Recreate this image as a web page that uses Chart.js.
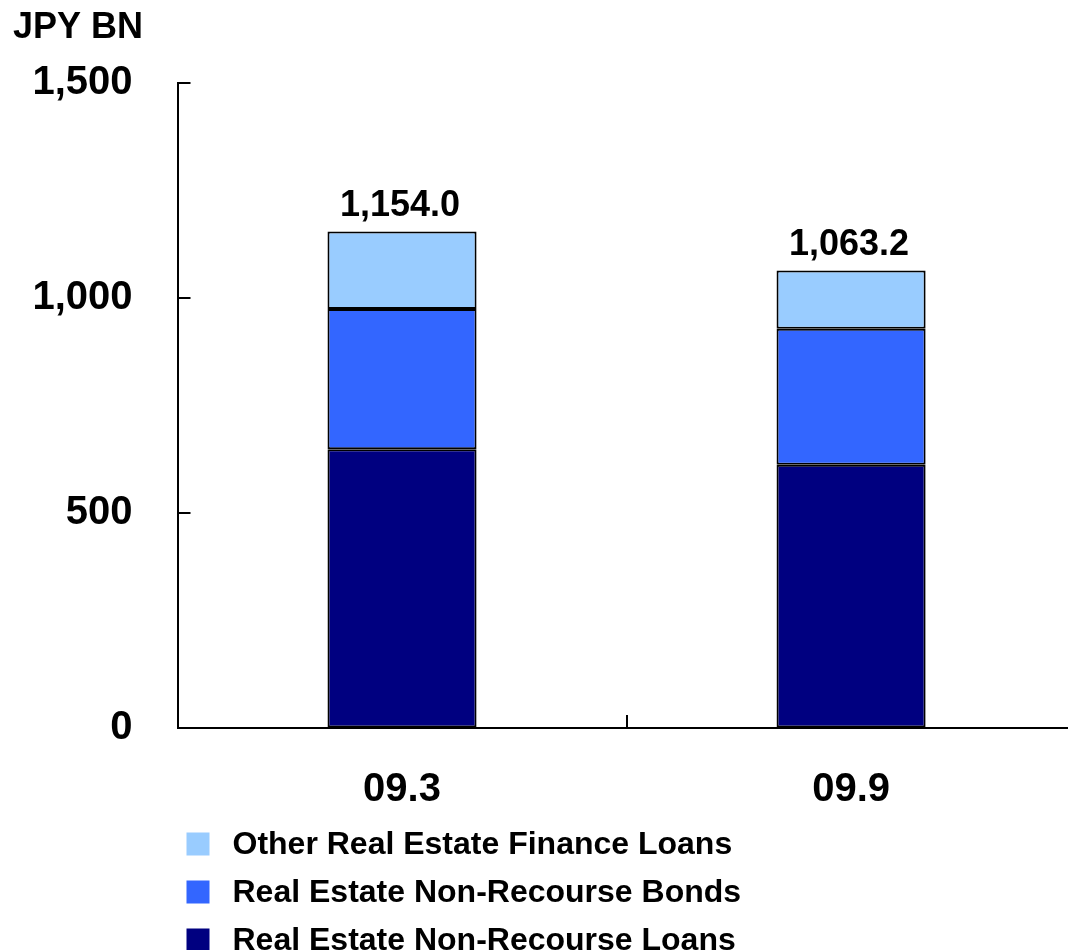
<!DOCTYPE html>
<html>
<head>
<meta charset="utf-8">
<title>Real Estate Finance</title>
<script src="https://cdn.jsdelivr.net/npm/chart.js@4/dist/chart.umd.min.js"></script>
<style>
    html, body { margin: 0; padding: 0; overflow: hidden; background: #ffffff; }
    #loansChart { display: block; }
</style>
</head>
<body>
<canvas id="loansChart" width="1080" height="950"></canvas>
<script>
// balances in JPY BN
const periods = ['09.3', '09.9'];
const nonRecourseLoans = [648.0, 612.0];
const nonRecourseBonds = [326.0, 316.0];
const otherFinanceLoans = [180.0, 135.2];
const yTicks = [0, 500, 1000, 1500];

const seriesNames = [
    'Real Estate Non-Recourse Loans',
    'Real Estate Non-Recourse Bonds',
    'Other Real Estate Finance Loans'
];
const seriesColors = ['#000080', '#3366ff', '#99ccff'];

const FONT = "'Liberation Sans', Arial, sans-serif";

document.addEventListener("DOMContentLoaded", function() {

    function formatTotal(v) {
        return v.toLocaleString('en-US', { minimumFractionDigits: 1, maximumFractionDigits: 1 });
    }

    // tick marks point into the plot, not out towards the labels
    const innerTicks = {
        id: 'innerTicks',
        afterDraw(chart) {
            const { ctx, chartArea, scales } = chart;
            const x = scales.x, y = scales.y;
            ctx.save();
            ctx.strokeStyle = '#000';
            ctx.lineWidth = 2;
            ctx.beginPath();
            y.ticks.forEach(t => {
                const py = Math.round(y.getPixelForValue(t.value));
                ctx.moveTo(chartArea.left, py);
                ctx.lineTo(chartArea.left + 13, py);
            });
            for (let i = 1; i < periods.length; i++) {
                const px = Math.round((x.getPixelForValue(i - 1) + x.getPixelForValue(i)) / 2);
                ctx.moveTo(px, chartArea.bottom);
                ctx.lineTo(px, chartArea.bottom - 13);
            }
            ctx.stroke();
            ctx.restore();
        }
    };

    // total of each stack written above the top segment
    const stackTotals = {
        id: 'stackTotals',
        afterDatasetsDraw(chart) {
            const { ctx } = chart;
            const top = chart.getDatasetMeta(chart.data.datasets.length - 1);
            ctx.save();
            ctx.fillStyle = '#000';
            ctx.font = `bold 36px ${FONT}`;
            ctx.textAlign = 'center';
            ctx.textBaseline = 'alphabetic';
            top.data.forEach((bar, i) => {
                const total = chart.data.datasets.reduce((s, ds) => s + ds.data[i], 0);
                ctx.fillText(formatTotal(total), bar.x - 2, bar.y - 16);
            });
            ctx.restore();
        }
    };

    // stacked list legend under the category labels, top series first
    const listLegend = {
        id: 'listLegend',
        afterDraw(chart) {
            const { ctx, chartArea } = chart;
            const sets = chart.data.datasets.slice().reverse();
            ctx.save();
            ctx.font = `bold 32px ${FONT}`;
            ctx.textBaseline = 'middle';
            ctx.textAlign = 'left';
            sets.forEach((ds, i) => {
                const cy = chartArea.bottom + 116 + i * 48;
                const bx = chartArea.left + 9;
                ctx.fillStyle = ds.backgroundColor;
                ctx.fillRect(bx, cy - 11.5, 23, 23);
                ctx.fillStyle = '#000';
                ctx.fillText(ds.label, bx + 46, cy + 1);
            });
            ctx.restore();
        }
    };

    function drawChart() {
        const ctx = document.getElementById('loansChart').getContext('2d');
        const values = [nonRecourseLoans, nonRecourseBonds, otherFinanceLoans];

        new Chart(ctx, {
            type: 'bar',
            data: {
                labels: periods,
                datasets: values.map((data, i) => ({
                    label: seriesNames[i],
                    data: data,
                    backgroundColor: seriesColors[i],
                    borderColor: '#000',
                    borderWidth: 2,
                    borderSkipped: false,
                    categoryPercentage: 1.0,
                    barPercentage: 0.332
                }))
            },
            options: {
                responsive: false,
                animation: false,
                layout: {
                    padding: { left: 13, right: 4.4, top: 0, bottom: 98 }
                },
                plugins: {
                    legend: { display: false },
                    tooltip: { enabled: false },
                    title: {
                        display: true,
                        text: 'JPY BN',
                        align: 'start',
                        color: '#000',
                        font: { family: FONT, size: 36, weight: 'bold' },
                        padding: { top: 6, bottom: 33.5 }
                    }
                },
                scales: {
                    x: {
                        stacked: true,
                        grid: { display: true, drawOnChartArea: false, drawTicks: false },
                        border: { display: true, color: '#000', width: 2 },
                        ticks: {
                            color: '#000',
                            padding: 38,
                            font: { family: FONT, size: 40, weight: 'bold' }
                        }
                    },
                    y: {
                        stacked: true,
                        min: yTicks[0],
                        max: yTicks[yTicks.length - 1],
                        afterBuildTicks(scale) {
                            scale.ticks = yTicks.map(v => ({ value: v }));
                        },
                        afterFit(scale) {
                            scale.width = 164.5;
                        },
                        grid: { display: true, drawOnChartArea: false, drawTicks: false },
                        border: { display: true, color: '#000', width: 2 },
                        ticks: {
                            color: '#000',
                            padding: 45,
                            font: { family: FONT, size: 40, weight: 'bold' },
                            callback: v => v.toLocaleString('en-US')
                        }
                    }
                }
            },
            plugins: [innerTicks, stackTotals, listLegend]
        });
    }

    drawChart();
});
</script>
</body>
</html>
